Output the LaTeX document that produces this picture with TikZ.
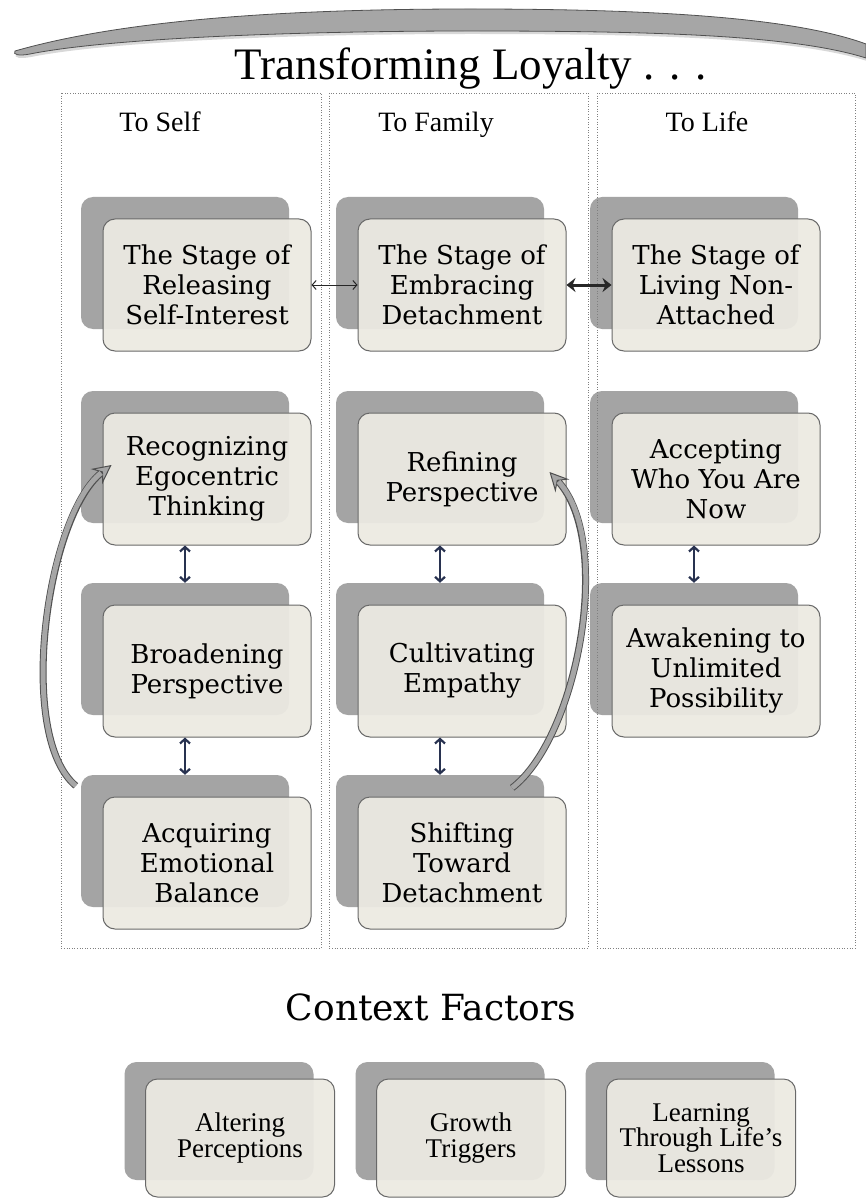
\documentclass[tikz,border=0pt]{standalone}
\usepackage{fontspec}
\setmainfont{DejaVu Serif}
\newfontfamily\headfont{Liberation Serif}
\usetikzlibrary{arrows.meta,backgrounds,shadows}

\definecolor{boxfill}{RGB}{236,234,226}
\definecolor{boxedge}{RGB}{105,105,105}
\definecolor{shadefill}{RGB}{164,164,164}
\definecolor{linkblue}{RGB}{80,110,150}
\definecolor{navy}{RGB}{40,50,80}
\definecolor{bandfill}{RGB}{166,166,166}
\definecolor{bandedge}{RGB}{80,80,80}

\begin{document}
\begin{tikzpicture}[x=1pt, y=-1pt,
  shadebox/.style={fill=shadefill, rounded corners=12pt, inner sep=0pt, minimum width=208pt, minimum height=132pt},
  stagebox/.style={draw=boxedge, line width=1pt, fill=boxfill, fill opacity=0.94, text opacity=1, rounded corners=12pt, inner sep=0pt, minimum width=208pt, minimum height=132pt, align=center, font=\fontsize{26}{30}\selectfont},
  smallshade/.style={shadebox, minimum width=189pt, minimum height=118pt},
  factorbox/.style={stagebox, minimum width=189pt, minimum height=118pt, font=\headfont\fontsize{27}{25.5}\selectfont},
  lane/.style={draw=gray, dotted, line width=0.6pt},
  link/.style={draw=linkblue, line width=1pt},
  stepline/.style={draw=navy, line width=2.2pt, {Straight Barb[length=4.5pt,width=10pt]}-{Straight Barb[length=4.5pt,width=10pt]}},
  thinlink/.style={draw=black!85, line width=1pt, {Straight Barb[length=4pt,width=9pt]}-{Straight Barb[length=4pt,width=9pt]}},
  boldlink/.style={draw=black!85, line width=3pt, {Stealth[length=9pt,width=14pt,inset=3pt]}-{Stealth[length=9pt,width=14pt,inset=3pt]}},
  loopback/.style={draw=bandedge, line width=7pt, -{Stealth[length=19pt,width=19pt,inset=7pt,fill=bandfill,line width=1pt]}, postaction={draw=bandfill, line width=5pt, -, shorten >=13pt}}
]
\path[use as bounding box, fill=white] (0,0) rectangle (866,1198);

% banner
\filldraw[fill=bandfill, draw=bandedge, line width=0.8pt, drop shadow={shadow xshift=1pt,shadow yshift=-3pt,opacity=0.3}]
  (15,51) .. controls (130,18) and (300,9) .. (470,9) .. controls (640,9) and (790,16) .. (866,44)
  -- (866,58) .. controls (790,34) and (640,31) .. (470,31) .. controls (300,31) and (110,38) .. (30,54)
  .. controls (20,56) and (12,55) .. (15,51) -- cycle;
\node[font=\headfont\fontsize{45}{50}\selectfont, anchor=base] (title) at (471,80) {Transforming Loyalty . . .};

% column heads
\foreach \name/\x/\txt in {hself/160/To Self, hfam/436/To Family, hlife/707/To Life} {
  \node[font=\headfont\fontsize{28}{30}\selectfont, anchor=base] (\name) at (\x,132) {\txt};
}

% stages
\foreach \name/\x/\y/\txt in {
  self1/207/285/{The Stage of\\Releasing\\Self-Interest},
  self2/207/479/{Recognizing\\Egocentric\\Thinking},
  self3/207/671/{Broadening\\Perspective},
  self4/207/863/{Acquiring\\Emotional\\Balance},
  fam1/462/285/{The Stage of\\Embracing\\Detachment},
  fam2/462/479/{Refining\\Perspective},
  fam3/462/671/{Cultivating\\Empathy},
  fam4/462/863/{Shifting\\Toward\\Detachment},
  life1/716/285/{The Stage of\\Living Non-\\Attached},
  life2/716/479/{Accepting\\Who You Are\\Now},
  life3/716/671/{Awakening to\\Unlimited\\Possibility}} {
  \node[shadebox] (bg\name) at (\x-22,\y-22) {};
  \node[stagebox] (\name) at (\x,\y) {\txt};
}

% lanes
\foreach \l/\r in {61/321, 329/588, 597/855} {
  \draw[lane] (\l,93) rectangle (\r,948);
}

% links between stages
\begin{pgfonlayer}{background}
\foreach \a/\b in {self1/self2, self2/self3, self3/self4, fam1/fam2, fam2/fam3, fam3/fam4, life1/life2, life2/life3} {
  \draw[link] (bg\a) -- (bg\b);
}
\end{pgfonlayer}
\foreach \a/\b in {self2/self3, self3/self4, fam2/fam3, fam3/fam4, life2/life3} {
  \draw[stepline] (bg\a.south |- \a.south) -- (bg\b.north);
}
\draw[thinlink] (self1.east) -- (fam1.west);
\draw[boldlink] (fam1.east) -- (life1.west);

% loops back up
\draw[loopback] ([xshift=-5pt,yshift=-11pt]bgself4.north west) .. controls +(-60,-50) and +(-65,50) .. ([xshift=9pt,yshift=14pt]self2.west);
\draw[loopback] ([xshift=-32pt,yshift=-13pt]bgfam4.north east) .. controls +(65,-50) and +(65,70) .. ([xshift=-17pt,yshift=7pt]fam2.east);

% context factors
\node[font=\fontsize{36}{40}\selectfont, anchor=base] (context) at (431,1020) {Context Factors};
\foreach \name/\x/\txt in {alter/240/{Altering\\Perceptions}, growth/471/{Growth\\Triggers}, lessons/701/{Learning\\Through Life’s\\Lessons}} {
  \node[smallshade] (bg\name) at (\x-21,1121) {};
  \node[factorbox] (\name) at (\x,1138) {\txt};
}
\end{tikzpicture}
\end{document}
